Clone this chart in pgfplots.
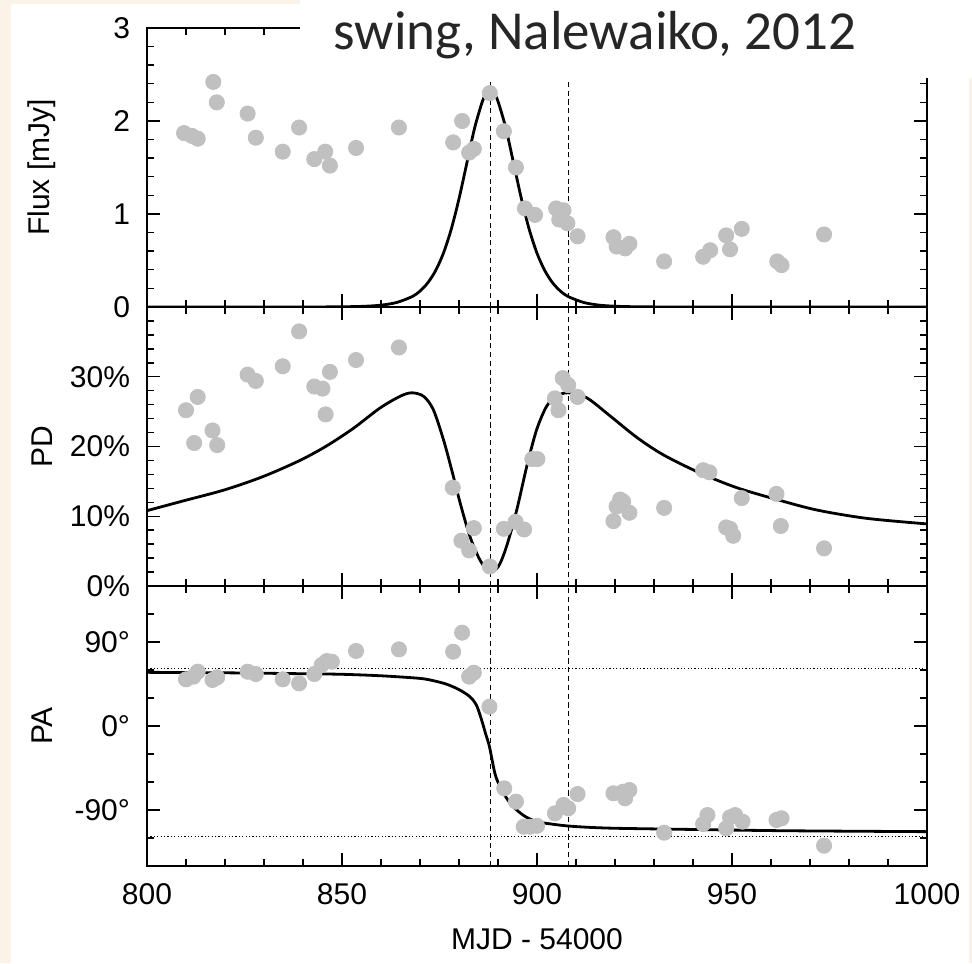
\documentclass[border=0pt]{standalone}
\usepackage{fontspec}
\setmainfont{Liberation Sans}
\newfontfamily\titlefont{Carlito}
\usepackage{pgfplots}
\pgfplotsset{compat=1.18}
\definecolor{bgbeige}{RGB}{251,243,231}
\definecolor{dotgray}{RGB}{192,192,192}
\definecolor{titlegray}{RGB}{38,38,38}

\pgfplotstableread{
x y
809.5 1.87
811.5 1.84
813.0 1.81
817.0 2.42
817.9 2.20
825.8 2.08
827.9 1.82
834.8 1.67
839.0 1.93
842.9 1.59
845.7 1.67
846.9 1.52
853.6 1.71
864.6 1.93
878.5 1.77
880.8 2.00
882.6 1.66
883.8 1.70
887.9 2.30
891.5 1.89
894.6 1.50
896.9 1.06
899.5 0.99
904.9 1.06
906.8 1.04
905.7 0.94
907.8 0.90
910.4 0.76
919.6 0.75
920.4 0.65
922.6 0.63
923.7 0.68
932.6 0.49
942.6 0.54
944.4 0.61
948.5 0.77
949.5 0.62
952.5 0.84
961.6 0.49
962.7 0.45
973.6 0.78
}\fluxdata

\pgfplotstableread{
x y
800 0.0000
830 0.0001
840 0.0003
848 0.0014
852 0.0035
856 0.0082
860 0.0197
864 0.0484
868 0.112
870 0.171
872 0.260
874 0.391
876 0.578
878 0.835
880 1.164
882 1.545
884 1.924
886 2.211
887 2.292
888 2.320
889 2.292
890 2.211
892 1.924
894 1.545
896 1.164
898 0.835
900 0.578
902 0.391
904 0.260
906 0.171
908 0.112
912 0.0484
916 0.0197
920 0.0082
924 0.0035
928 0.0014
936 0.0003
950 0.0001
1000 0.0000
}\fluxmodel

\pgfplotstableread{
x y
810.0 25.2
813.0 27.1
812.1 20.5
816.8 22.3
818.0 20.2
825.8 30.3
827.9 29.4
834.8 31.5
839.0 36.5
842.9 28.6
845.0 28.3
846.9 30.7
845.8 24.6
853.6 32.4
864.6 34.2
878.4 14.1
880.6 6.5
882.6 5.1
883.8 8.3
887.9 2.8
891.5 8.2
894.5 9.2
896.7 8.1
898.8 18.2
900.1 18.2
906.6 29.8
908.0 28.8
904.6 26.9
905.5 25.2
910.4 27.1
919.6 9.3
920.4 11.4
921.3 12.4
922.1 12.1
923.7 10.5
932.6 11.2
942.6 16.6
944.2 16.3
948.5 8.4
949.5 8.2
950.3 7.2
952.5 12.6
961.4 13.2
962.5 8.6
973.6 5.4
}\pddata

\pgfplotstableread{
x y
800 10.8
809.3 12.2
820 13.8
829.8 15.7
839.2 18.0
846.1 20.1
852.9 22.6
859.7 25.5
864.9 27.2
867.9 27.7
870.9 27.2
873.4 25.3
876 21.0
878.1 16.7
880.3 11.9
882.8 7.1
885.4 3.7
887.8 2.1
890.1 2.8
892.2 5.7
894.8 10.9
897.4 17.2
899.9 22.4
902.5 25.8
905.0 27.2
907.9 27.7
912.7 27.0
918.7 24.4
925.6 21.3
932.4 18.8
941.8 16.2
951.2 14.1
961.5 12.4
971.7 10.9
984.5 9.7
1000 8.9
}\pdmodel

\pgfplotstableread{
x y
810.0 50.0
811.9 52.9
813.0 58.2
816.8 49.3
818.0 52.2
825.8 58.2
827.9 55.7
834.8 50.0
839.0 45.7
842.9 55.7
844.8 65.4
846.1 69.6
847.4 68.9
853.6 80.4
864.6 82.1
878.5 79.6
880.8 100.0
882.6 52.9
883.8 57.1
887.8 20.7
891.6 -66.8
894.6 -81.1
896.6 -107.9
898.2 -107.9
900.0 -107.0
904.6 -93.6
906.8 -84.6
908.0 -88.2
910.4 -72.9
919.6 -72.1
922.1 -70.4
923.7 -68.6
922.6 -77.5
932.6 -114.3
942.6 -105.0
943.7 -95.4
948.5 -109.6
949.5 -97.8
950.8 -95.4
952.7 -102.5
961.4 -100.7
962.7 -98.9
973.6 -128.2
}\padata

\pgfplotstableread{
x y
800 57.5
820 57.0
840 56.0
850 55.4
860 53.8
870 51.0
874 48.0
877 44.5
880 39.0
882.8 31.4
884.5 22.0
885.8 6.4
886.8 -8.0
887.8 -22.0
889.2 -50.7
890.3 -63.0
891.4 -72.0
893.0 -82.0
894.8 -90.0
897.0 -97.0
899.9 -102.5
903.3 -104.8
907.6 -107.0
913.0 -108.5
920.4 -109.6
937.5 -110.7
963.2 -112.2
1000 -113.2
}\pamodel

\begin{document}
\begin{tikzpicture}[x=1pt,y=1pt]
\useasboundingbox (0,0) rectangle (486,481.5);
\fill[bgbeige] (0,0) rectangle (486,481.5);
\fill[white] (5.5,0) rectangle (484.5,479.5);

\pgfplotsset{
  panel/.style={
    scale only axis, width=390pt, xmin=800, xmax=1000,
    axis line style={line width=1pt},
    every tick/.style={black, line width=0.7pt},
    major tick length=6.5pt, minor tick length=3.4pt,
    tick align=inside,
    xtick={800,850,...,1000}, minor x tick num=4,
    /pgf/number format/assume math mode=true,
    /pgf/number format/set thousands separator={},
    ticklabel style={font=\fontsize{15}{18}\selectfont},
    yticklabel style={xshift=-5pt},
    xticklabel style={yshift=-5pt},
    every axis y label/.style={at={(axis description cs:-0.1346,0.5)}, rotate=90, anchor=center, font=\fontsize{15}{18}\selectfont},
    every axis x label/.style={at={(axis description cs:0.5,0)}, anchor=north, yshift=-27.5pt, font=\fontsize{15}{18}\selectfont},
    anchor=south west,
  },
  dots/.style={only marks, mark=*, mark size=3.8pt, color=dotgray},
  model/.style={black, line width=1.4pt, smooth, no markers},
  vdash/.style={black, line width=0.65pt, dash pattern=on 2.6pt off 1.8pt, no markers},
  hdot/.style={black, line width=0.5pt, dash pattern=on 0.6pt off 1.1pt, no markers},
}

% Flux panel
\begin{axis}[panel, at={(73.5pt,328pt)}, height=139.5pt,
  ymin=0, ymax=3, ytick={0,1,2,3}, minor y tick num=4,
  xticklabels={}, ylabel={Flux [mJy]}]
\addplot[dots] table {\fluxdata};
\addplot[vdash] coordinates {(888,0) (888,3)};
\addplot[vdash] coordinates {(908,0) (908,3)};
\addplot[model] table {\fluxmodel};
\end{axis}

% PD panel
\begin{axis}[panel, at={(73.5pt,188.5pt)}, height=139.5pt,
  ymin=0, ymax=40, ytick={0,10,20,30}, yticklabels={0\%,10\%,20\%,30\%},
  minor ytick={2,4,6,8,12,14,16,18,22,24,26,28,32,34,36,38},
  xticklabels={}, ylabel={PD}]
\addplot[dots] table {\pddata};
\addplot[vdash] coordinates {(888,0) (888,40)};
\addplot[vdash] coordinates {(908,0) (908,40)};
\addplot[model] table {\pdmodel};
\end{axis}

% PA panel
\begin{axis}[panel, at={(73.5pt,48.5pt)}, height=140pt,
  ymin=-150, ymax=150, ytick={-90,0,90}, yticklabels={-90°,0°,90°},
  minor ytick={-120,-60,-30,30,60,120},
  ylabel={PA}, xlabel={MJD - 54000}]
\addplot[hdot] coordinates {(800,62) (1000,62)};
\addplot[hdot] coordinates {(800,-118) (1000,-118)};
\addplot[dots] table {\padata};
\addplot[vdash] coordinates {(888,-150) (888,150)};
\addplot[vdash] coordinates {(908,-150) (908,150)};
\addplot[model] table {\pamodel};
\end{axis}

% title box
\fill[white] (150,442.5) rectangle (486,481.5);
\node[font=\titlefont\fontsize{27.5}{31}\selectfont, text=titlegray, anchor=base] at (297.5,456.5) {swing, Nalewaiko, 2012};
\end{tikzpicture}
\end{document}
